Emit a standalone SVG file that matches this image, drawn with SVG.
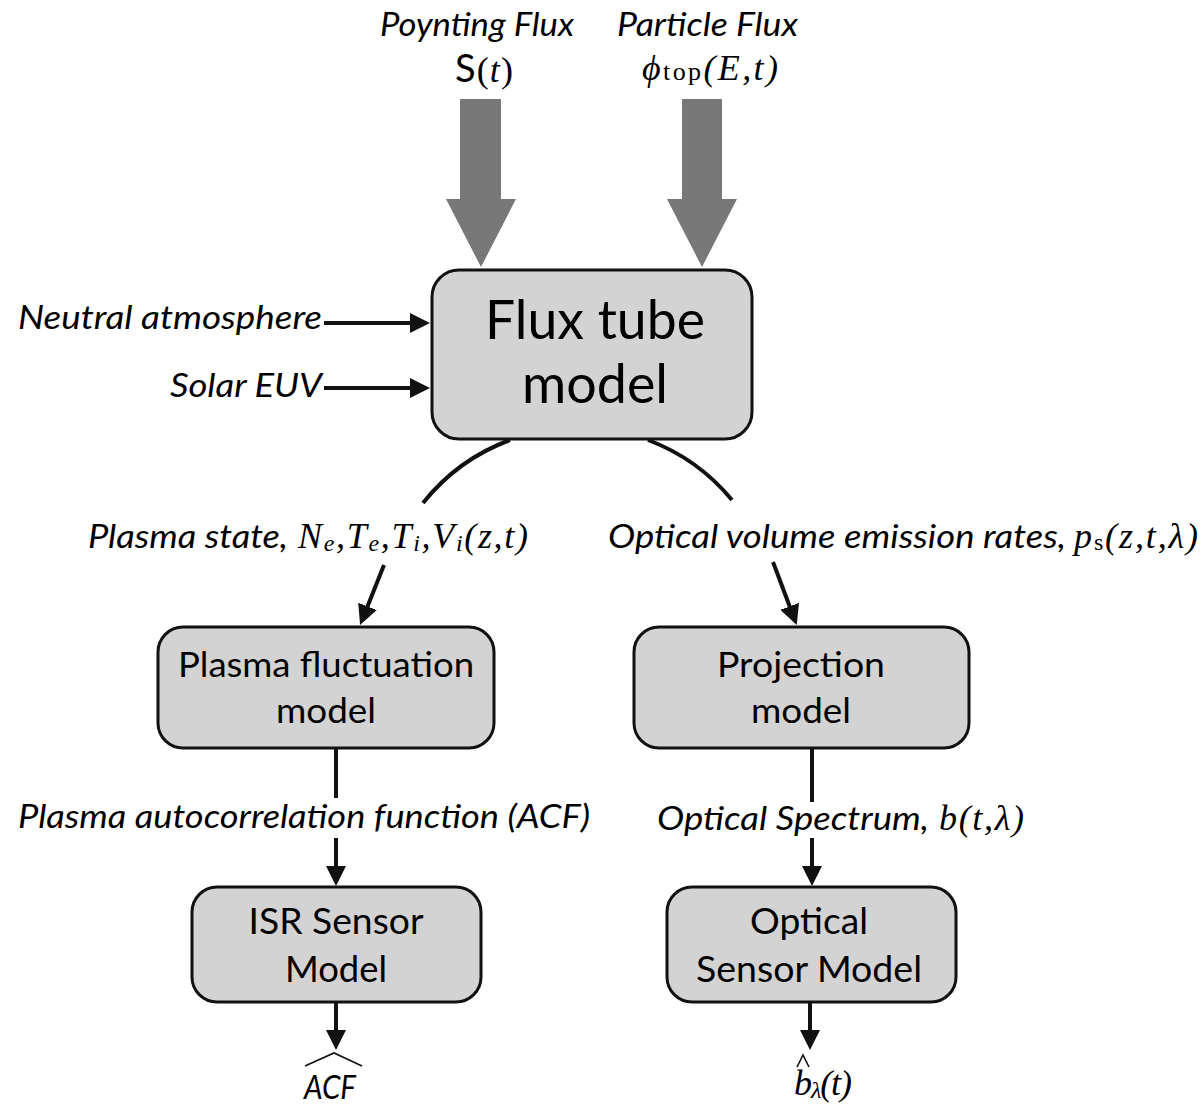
<svg xmlns="http://www.w3.org/2000/svg" width="1202" height="1104" viewBox="0 0 1202 1104">
  <defs>
    <style>
      .box { fill: #d3d3d3; stroke: #111; stroke-width: 3; }
      .node { font-family: Lato, "Open Sans", "DejaVu Sans", sans-serif; fill: #000; text-anchor: middle; }
      .lbl { font-family: Lato, "Open Sans", "DejaVu Sans", sans-serif; font-style: italic; fill: #000; font-size: 33px; }
      .math { font-family: "Liberation Serif", "DejaVu Serif", serif; font-style: italic; fill: #000; font-size: 36px; }
      .up { font-style: normal; }
      .sub { font-size: 24px; }
      .wire { fill: none; stroke: #111; stroke-width: 4; }
      .hat { fill: none; stroke: #111; stroke-width: 1.6; }
      .flux { fill: #787878; }
    </style>
    <marker id="ah" viewBox="0 0 20 20" refX="10" refY="10" markerWidth="20" markerHeight="20" orient="auto" markerUnits="userSpaceOnUse">
      <path d="M0,0 L20,10 L0,20 z" fill="#111"/>
    </marker>
  </defs>

  <rect width="1202" height="1104" fill="#fff"/>

  <!-- external drivers at the top -->
  <g id="poynting-flux">
    <text class="lbl" x="380" y="36" font-size="31" textLength="194" lengthAdjust="spacingAndGlyphs">Poynting Flux</text>
    <text x="455" y="82" textLength="58" lengthAdjust="spacing"><tspan font-family="Lato, 'Open Sans', sans-serif" font-size="38" fill="#000">S</tspan><tspan class="math up" font-size="38">(</tspan><tspan class="math" font-size="38">t</tspan><tspan class="math up" font-size="38">)</tspan></text>
    <polygon class="flux" points="460,99 501,99 501,199 516,199 481,267 446,199 460,199"/>
  </g>
  <g id="particle-flux">
    <text class="lbl" x="617" y="36" font-size="31" textLength="181" lengthAdjust="spacingAndGlyphs">Particle Flux</text>
    <text class="math" x="642" y="80" font-size="38" textLength="136" lengthAdjust="spacing">ϕ<tspan class="up" font-size="26">top</tspan>(E,t)</text>
    <polygon class="flux" points="682,99 722,99 722,199 737,199 702,267 667,199 682,199"/>
  </g>

  <!-- side inputs -->
  <g id="neutral-atmosphere">
    <text class="lbl" x="18" y="329" font-size="34" textLength="304" lengthAdjust="spacingAndGlyphs">Neutral atmosphere</text>
  </g>
  <g id="solar-euv">
    <text class="lbl" x="170" y="397" font-size="34" textLength="152" lengthAdjust="spacingAndGlyphs">Solar EUV</text>
  </g>

  <!-- model blocks -->
  <g id="flux-tube-model">
    <rect class="box" x="432" y="270" width="320" height="169" rx="27"/>
    <text class="node" x="595" y="339" font-size="54" textLength="220" lengthAdjust="spacingAndGlyphs">Flux tube</text>
    <text class="node" x="595" y="403" font-size="54" textLength="146" lengthAdjust="spacingAndGlyphs">model</text>
  </g>
  <g id="plasma-fluctuation-model">
    <rect class="box" x="158" y="627" width="336" height="121" rx="25"/>
    <text class="node" x="326" y="677" font-size="35" textLength="296" lengthAdjust="spacingAndGlyphs">Plasma fluctuation</text>
    <text class="node" x="326" y="723" font-size="35" textLength="100" lengthAdjust="spacingAndGlyphs">model</text>
  </g>
  <g id="projection-model">
    <rect class="box" x="634" y="627" width="335" height="121" rx="25"/>
    <text class="node" x="801" y="677" font-size="35" textLength="168" lengthAdjust="spacingAndGlyphs">Projection</text>
    <text class="node" x="801" y="723" font-size="35" textLength="100" lengthAdjust="spacingAndGlyphs">model</text>
  </g>
  <g id="isr-sensor-model">
    <rect class="box" x="192" y="887" width="289" height="115" rx="25"/>
    <text class="node" x="336" y="934" font-size="36" textLength="175" lengthAdjust="spacingAndGlyphs">ISR Sensor</text>
    <text class="node" x="336" y="982" font-size="36" textLength="102" lengthAdjust="spacingAndGlyphs">Model</text>
  </g>
  <g id="optical-sensor-model">
    <rect class="box" x="667" y="887" width="289" height="115" rx="25"/>
    <text class="node" x="809" y="934" font-size="36" textLength="118" lengthAdjust="spacingAndGlyphs">Optical</text>
    <text class="node" x="809" y="982" font-size="36" textLength="226" lengthAdjust="spacingAndGlyphs">Sensor Model</text>
  </g>

  <!-- edge labels -->
  <g id="plasma-state-label">
    <text class="lbl" x="88" y="548" textLength="200" lengthAdjust="spacingAndGlyphs">Plasma state,</text>
    <text class="math" x="298" y="548" textLength="230" lengthAdjust="spacing">N<tspan class="sub" dy="3">e</tspan><tspan dy="-3">,</tspan>T<tspan class="sub" dy="3">e</tspan><tspan dy="-3">,</tspan>T<tspan class="sub" dy="3">i</tspan><tspan dy="-3">,</tspan>V<tspan class="sub" dy="3">i</tspan><tspan dy="-3">(z,t)</tspan></text>
  </g>
  <g id="emission-rates-label">
    <text class="lbl" x="608" y="548" textLength="458" lengthAdjust="spacingAndGlyphs">Optical volume emission rates,</text>
    <text class="math" x="1074" y="548" font-size="38" textLength="124" lengthAdjust="spacing">p<tspan class="sub up" dy="2">s</tspan><tspan dy="-2">(z,t,λ)</tspan></text>
  </g>
  <g id="acf-label">
    <text class="lbl" x="18" y="828" textLength="572" lengthAdjust="spacingAndGlyphs">Plasma autocorrelation function (ACF)</text>
  </g>
  <g id="spectrum-label">
    <text class="lbl" x="657" y="830" textLength="272" lengthAdjust="spacingAndGlyphs">Optical Spectrum,</text>
    <text class="math" x="939" y="830" font-size="38" textLength="85" lengthAdjust="spacing">b(t,λ)</text>
  </g>

  <!-- estimated outputs -->
  <g id="acf-estimate">
    <polyline class="hat" points="305,1066 334,1053 362,1066"/>
    <text class="lbl" x="304" y="1099" font-size="36" textLength="52" lengthAdjust="spacingAndGlyphs">ACF</text>
  </g>
  <g id="brightness-estimate">
    <polyline class="hat" points="797,1067 803,1055 809,1067"/>
    <text class="math" x="794" y="1095" font-size="38" textLength="58" lengthAdjust="spacing">b<tspan class="sub" dy="3">λ</tspan><tspan dy="-3">(t)</tspan></text>
  </g>

  <!-- connectors -->
  <g id="connectors">
    <line class="wire" x1="324" y1="323" x2="420" y2="323" marker-end="url(#ah)"/>
    <line class="wire" x1="324" y1="388" x2="420" y2="388" marker-end="url(#ah)"/>
    <path class="wire" d="M510,440 A200,200 0 0,0 423,503"/>
    <path class="wire" d="M648,440 A200,200 0 0,1 732,500"/>
    <line class="wire" x1="384" y1="565" x2="363.8" y2="615.7" marker-end="url(#ah)"/>
    <line class="wire" x1="773" y1="562" x2="793.2" y2="615.7" marker-end="url(#ah)"/>
    <line class="wire" x1="336" y1="748" x2="336" y2="798"/>
    <line class="wire" x1="336" y1="838" x2="336" y2="876" marker-end="url(#ah)"/>
    <line class="wire" x1="812" y1="748" x2="812" y2="802"/>
    <line class="wire" x1="812" y1="838" x2="812" y2="876" marker-end="url(#ah)"/>
    <line class="wire" x1="336" y1="1002" x2="336" y2="1040" marker-end="url(#ah)"/>
    <line class="wire" x1="810" y1="1002" x2="810" y2="1040" marker-end="url(#ah)"/>
  </g>
</svg>
